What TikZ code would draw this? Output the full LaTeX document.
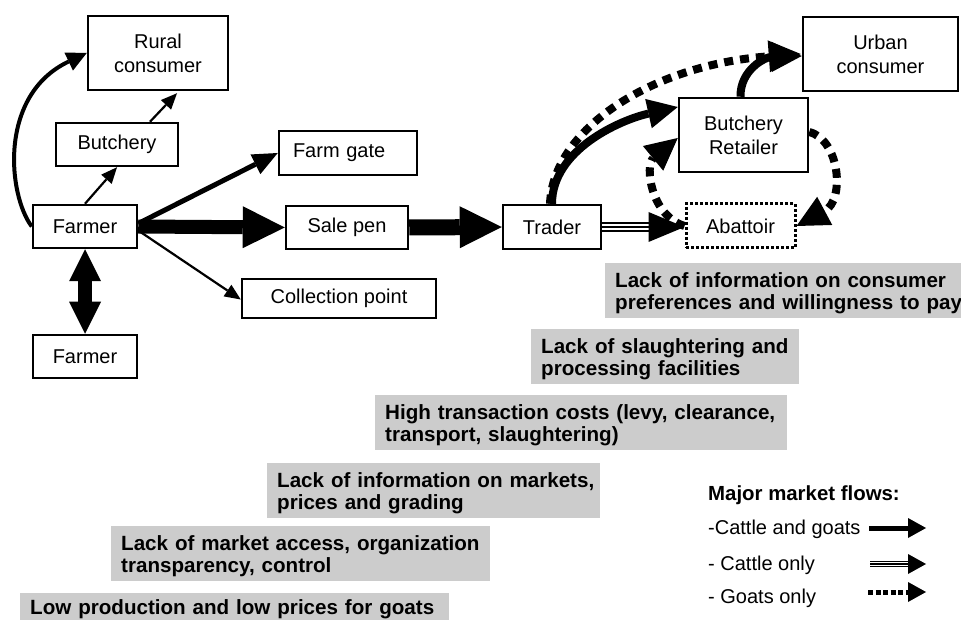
\documentclass[tikz,border=0pt]{standalone}
\usepackage{fontspec}
\setmainfont{Liberation Sans}
\usetikzlibrary{arrows.meta,calc}
\definecolor{boxgray}{RGB}{204,204,204}
\begin{document}
\begin{tikzpicture}[x=1pt,y=-1pt]
\tikzset{
  box/.style={draw, line width=2.5pt, align=center, inner sep=0pt, font=\fontsize{20}{24}\selectfont},
  dotbox/.style={box, dash pattern=on 3pt off 2pt, line width=3pt},
  gbox/.style={fill=boxgray, anchor=north west, align=left, inner xsep=10pt, inner ysep=3pt,
    text height=21pt, text depth=28pt, font=\bfseries\fontsize{20.6}{22.5}\selectfont},
  legtext/.style={anchor=base west, inner sep=0pt, font=\fontsize{20}{24}\selectfont},
  thinarrow/.style={line width=2.2pt, -{Triangle[length=16pt,width=14pt,line width=0pt]}},
  midarrow/.style={line width=5pt, -{Triangle[length=25pt,width=22pt,line width=0pt]}},
  bigarrow/.style={line width=14pt, -{Triangle[length=42pt,width=42pt,line width=0pt]}},
  curvearrow/.style={line width=4pt, -{Triangle[length=20pt,width=20pt,line width=0pt]}},
  heavycurve/.style={line width=8pt, -{Triangle[length=30pt,width=30pt,line width=0pt]}},
  goatarrow/.style={line width=8pt, dash pattern=on 9pt off 7pt, -{Triangle[length=32pt,width=32pt,line width=0pt]}},
}
\useasboundingbox (0,0) rectangle (961,620);

% gray constraint boxes
\node[gbox, text width=360pt] (g1) at (605,263) {\mbox{Lack of information on consumer}\\\mbox{preferences and willingness to pay}};
\node[gbox, text width=248pt] (g2) at (531,329) {\mbox{Lack of slaughtering and}\\\mbox{processing facilities}};
\node[gbox, text width=392pt] (g3) at (375,395) {\mbox{High transaction costs (levy, clearance,}\\\mbox{transport, slaughtering)}};
\node[gbox, text width=313pt] (g4) at (267,463) {\mbox{Lack of information on markets,}\\\mbox{prices and grading}};
\node[gbox, text width=359pt] (g5) at (111,526) {\mbox{Lack of market access, organization}\\\mbox{transparency, control}};
\node[gbox, text width=409pt, text height=18pt, text depth=12pt] (g6) at (20,593) {\mbox{Low production and low prices for goats}};

% nodes
\node[box, minimum width=140pt, minimum height=74pt] (rural) at (158,53) {Rural\\consumer};
\node[box, minimum width=122pt, minimum height=43pt] (butch) at (117,144.5) {Butchery};
\node[box, minimum width=104pt, minimum height=43pt] (farmer) at (85,226.5) {Farmer};
\node[box, minimum width=104pt, minimum height=43pt] (farmer2) at (85,356.5) {Farmer};
\node[box, minimum width=138pt, minimum height=44pt, text width=110pt, align=left] (farmgate) at (348,153) {Farm gate};
\node[box, minimum width=122pt, minimum height=43pt] (salepen) at (347,227.5) {Sale pen};
\node[box, minimum width=194pt, minimum height=39pt] (collect) at (339,298.5) {Collection point};
\node[box, minimum width=98pt, minimum height=44pt] (trader) at (552,227) {Trader};
\node[dotbox, minimum width=109pt, minimum height=44pt] (abattoir) at (740.5,226) {Abattoir};
\node[box, minimum width=129pt, minimum height=74pt] (bretail) at (743.5,135) {Butchery\\Retailer};
\node[box, minimum width=155pt, minimum height=74pt] (urban) at (880.5,54) {Urban\\consumer};

% connectors, left part
\draw[curvearrow] (farmer.west) .. controls (8,195) and (-2,95) .. (rural.west);
\draw[thinarrow] (farmer.north) -- (butch.south);
\draw[thinarrow] ($(butch.north)+(33,0)$) -- ($(rural.south)+(19,2)$);
\draw[midarrow] ($(farmer.east)+(0,-3)$) -- (farmgate.west);
\draw[bigarrow] (farmer.east) -- (salepen.west);
\draw[thinarrow] ($(farmer.east)+(0,4)$) -- ($(collect.west)+(0,1)$);
\draw[line width=14pt, {Triangle[length=32pt,width=32pt,line width=0pt]}-{Triangle[length=32pt,width=32pt,line width=0pt]}] (farmer.south) -- (farmer2.north);
\draw[bigarrow, line width=16pt] (salepen.east) -- (trader.west);

% cattle only: trader -> abattoir
\coordinate (tahead) at ($(abattoir.west)+(-36,1)$);
\draw[line width=2pt, double=white, double distance=6pt] (trader.east) -- (tahead);
\draw[line width=2pt] (trader.east) -- (tahead);
\draw[line width=2pt, -{Triangle[length=36pt,width=30pt,line width=0pt]}] (tahead) -- ($(abattoir.west)+(0,1)$);

% right part
\draw[goatarrow] ($(trader.north)+(-2,0)$) .. controls (553,130) and (650,65) .. ($(urban.west)+(-1,0)$);
\draw[heavycurve] (trader.north) .. controls (552,150) and (620,120) .. ($(bretail.west)+(0,-28)$);
\draw[heavycurve] ($(bretail.north)+(-3,0)$) .. controls (740,70) and (765,57) .. ($(urban.west)+(0,2)$);
\draw[goatarrow] (abattoir.west) .. controls (650,215) and (645,165) .. ($(bretail.west)+(0,3)$);
\draw[goatarrow] ($(bretail.east)+(0,-3)$) .. controls (840,140) and (845,200) .. (abattoir.east);

% legend
\node[legtext, font=\bfseries\fontsize{20.4}{24}\selectfont] (lgtitle) at (708,500) {Major market flows:};
\node[legtext] (lg1) at (708,534) {-Cattle and goats};
\node[legtext] (lg2) at (708,570) {- Cattle only};
\node[legtext] (lg3) at (708,603) {- Goats only};
\coordinate (l1a) at (869,528); \coordinate (l1b) at (926,528);
\coordinate (l2a) at (870,564); \coordinate (l2m) at (908,564); \coordinate (l2b) at (926,564);
\coordinate (l3a) at (868,592); \coordinate (l3b) at (926,592);
\draw[line width=5pt, -{Triangle[length=18pt,width=20pt,line width=0pt]}] (l1a) -- (l1b);
\draw[line width=1.2pt, double=white, double distance=3.6pt] (l2a) -- (l2m);
\draw[line width=1.2pt] (l2a) -- (l2m);
\draw[line width=1.2pt, -{Triangle[length=18pt,width=20pt,line width=0pt]}] (l2m) -- (l2b);
\draw[line width=5pt, dash pattern=on 5pt off 2.5pt, -{Triangle[length=18pt,width=20pt,line width=0pt]}] (l3a) -- (l3b);
\end{tikzpicture}
\end{document}
